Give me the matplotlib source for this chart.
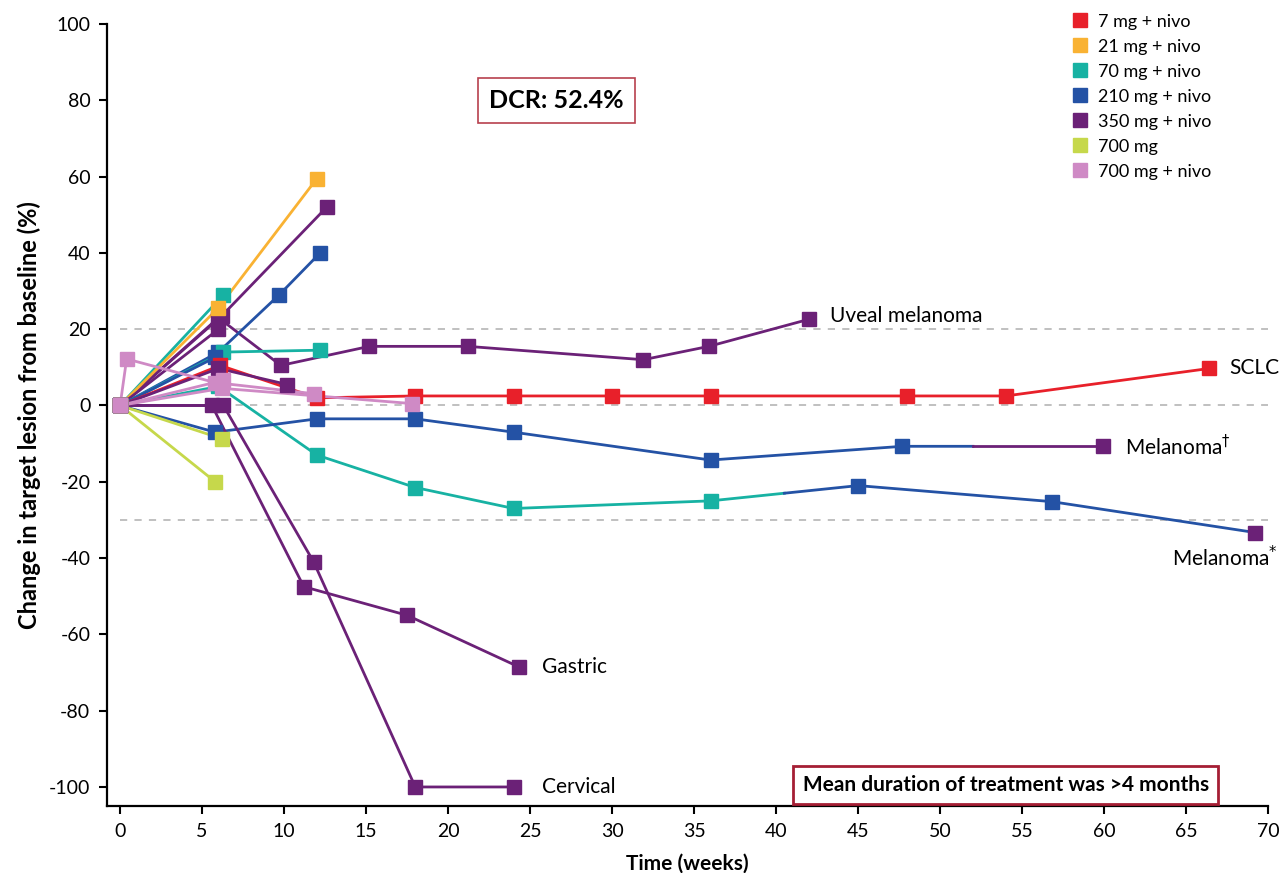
import numpy as np
import matplotlib.pyplot as plt
from matplotlib.lines import Line2D

plt.rcParams['font.family'] = ['Lato', 'DejaVu Sans']
plt.rcParams['axes.unicode_minus'] = False

# dose groups (legend order) and their colours
doses = ['7 mg + nivo', '21 mg + nivo', '70 mg + nivo', '210 mg + nivo',
         '350 mg + nivo', '700 mg', '700 mg + nivo']
dose_colors = ['#E8202A', '#F9B233', '#17B2A3', '#2452A5',
               '#6B2177', '#C6D84B', '#CF8AC5']
RED, YEL, TEAL, BLUE, PURP, LIME, PINK = range(7)

# patients: weeks, % change from baseline, dose at each visit
sclc_weeks = [0, 6.1, 12, 18, 24, 30, 36, 48, 54, 66.4]
sclc_change = [0, 10.5, 2, 2.5, 2.5, 2.5, 2.5, 2.5, 2.5, 9.7]
sclc_dose = [RED] * 10

yel_weeks = [0, 6, 12]
yel_change = [0, 25.6, 59.5]

teal_a_weeks = [0, 6.3]
teal_a_change = [0, 29]
teal_b_weeks = [0, 6.3, 12.2]
teal_b_change = [0, 14, 14.5]

mel_star_weeks = [0, 6, 12, 18, 24, 36, 45, 56.8, 69.2]
mel_star_change = [0, 5, -13, -21.5, -27, -25, -21, -25.2, -33.3]
mel_star_dose = [TEAL] * 6 + [BLUE, BLUE, PURP]
mel_star_line = [(0, TEAL), (40.5, BLUE)]

blue_a_weeks = [0, 6, 9.7, 12.2]
blue_a_change = [0, 14, 29, 40]
blue_c_weeks = [0, 5.8]
blue_c_change = [0, 12.6]

mel_dag_weeks = [0, 5.8, 12, 18, 24, 36, 47.7, 59.9]
mel_dag_change = [0, -7, -3.5, -3.5, -7, -14.3, -10.7, -10.7]
mel_dag_dose = [BLUE] * 7 + [PURP]
mel_dag_line = [(0, BLUE), (52, PURP)]

purp_a_weeks = [0, 6.2, 12.6]
purp_a_change = [0, 23.5, 52]
uveal_weeks = [0, 6, 9.8, 15.2, 21.2, 31.9, 35.9, 42]
uveal_change = [0, 23, 10.5, 15.5, 15.5, 12, 15.5, 22.6]
purp_d_weeks = [0, 6, 10.2]
purp_d_change = [0, 9.7, 5.5]
purp_e_weeks = [0, 6]
purp_e_change = [0, 20]
gastric_weeks = [0, 5.6, 11.2, 17.5, 24.3]
gastric_change = [0, 0, -47.5, -55, -68.5]
cervical_weeks = [0, 6.3, 11.8, 18, 24]
cervical_change = [0, 0, -41, -100, -100]

lime_a_weeks = [0, 6.2]
lime_a_change = [0, -8.7]
lime_b_weeks = [0, 5.8]
lime_b_change = [0, -20]

pink_a_weeks = [0, 0.4, 5.8, 11.8]
pink_a_change = [0, 12.2, 6, 3.1]
pink_b_weeks = [0, 6.3]
pink_b_change = [0, 6.6]
pink_c_weeks = [0, 6.2, 17.8]
pink_c_change = [0, 4.5, 0.5]

patients = [
    (purp_a_weeks, purp_a_change, PURP, None),
    (uveal_weeks, uveal_change, PURP, None),
    (teal_a_weeks, teal_a_change, TEAL, None),
    (yel_weeks, yel_change, YEL, None),
    (blue_a_weeks, blue_a_change, BLUE, None),
    (purp_e_weeks, purp_e_change, PURP, None),
    (teal_b_weeks, teal_b_change, TEAL, None),
    (blue_c_weeks, blue_c_change, BLUE, None),
    (sclc_weeks, sclc_change, sclc_dose, None),
    (purp_d_weeks, purp_d_change, PURP, None),
    (mel_star_weeks, mel_star_change, mel_star_dose, mel_star_line),
    (mel_dag_weeks, mel_dag_change, mel_dag_dose, mel_dag_line),
    (gastric_weeks, gastric_change, PURP, None),
    (cervical_weeks, cervical_change, PURP, None),
    (lime_a_weeks, lime_a_change, LIME, None),
    (lime_b_weeks, lime_b_change, LIME, None),
    (pink_b_weeks, pink_b_change, PINK, None),
    (pink_c_weeks, pink_c_change, PINK, None),
    (pink_a_weeks, pink_a_change, PINK, None),
]

labels = [('Uveal melanoma', 43.3, 23.4, 'left'),
          ('SCLC', 67.6, 9.7, 'left'),
          ('Melanoma$^{\u2020}$', 61.3, -10.7, 'left'),
          ('Melanoma$^{*}$', 70.6, -39.8, 'right'),
          ('Gastric', 25.7, -68.5, 'left'),
          ('Cervical', 25.7, -100, 'left')]

fig = plt.figure(figsize=(12.81, 8.73), dpi=100)
ax = fig.add_axes([0.0835, 0.0767, 0.9065, 0.8958])

for y in (20, 0, -30):
    ax.plot([0, 70], [y, y], ls=(0, (4, 4)), color='#BBBBBB', lw=1.3, zorder=1)

for weeks, change, dose, line in patients:
    weeks = np.asarray(weeks, float)
    change = np.asarray(change, float)
    if isinstance(dose, int):
        dose = [dose] * len(weeks)
    if line is None:
        line = [(weeks[0], dose[0])]
    starts = [s for s, _ in line] + [weeks[-1]]
    for (s, c), e in zip(line, starts[1:]):
        inside = (weeks > s) & (weeks < e)
        xs = np.concatenate([[s], weeks[inside], [e]])
        ys = np.interp(xs, weeks, change)
        ax.plot(xs, ys, color=dose_colors[c], lw=2, zorder=2)
    for x, y, d in zip(weeks, change, dose):
        ax.plot(x, y, marker='s', ms=10, color=dose_colors[d], ls='none', zorder=3)

for text, x, y, ha in labels:
    ax.text(x, y, text, ha=ha, va='center', fontsize=15)

ax.text(26.6, 80, 'DCR: 52.4%', ha='center', va='center', fontsize=18, fontweight='bold',
        bbox=dict(boxstyle='square,pad=0.45', fc='white', ec='#B8414E', lw=1.2))
ax.text(54, -99.5, 'Mean duration of treatment was >4 months', ha='center', va='center',
        fontsize=15, fontweight='bold',
        bbox=dict(boxstyle='square,pad=0.45', fc='white', ec='#A51E34', lw=2))

ax.set_xlim(-0.8, 70)
ax.set_ylim(-105, 100)
ax.set_xticks(np.arange(0, 71, 5))
ax.set_yticks(np.arange(-100, 101, 20))
for s in ('top', 'right'):
    ax.spines[s].set_visible(False)
for s in ('left', 'bottom'):
    ax.spines[s].set_linewidth(1.6)
ax.tick_params(length=6, width=1.5, labelsize=14, pad=6)
ax.set_xlabel('Time (weeks)', fontsize=15, fontweight='bold', labelpad=10)
ax.set_ylabel('Change in target lesion from baseline (%)', fontsize=17, fontweight='bold', labelpad=6)

handles = [Line2D([], [], marker='s', ls='none', color=c, ms=10) for c in dose_colors]
fig.legend(handles, doses, loc='upper left', bbox_to_anchor=(0.823, 1.003), frameon=False,
           fontsize=13, handletextpad=0.5, labelspacing=0.5, handlelength=1.0)

fig.savefig('out.png', dpi=100)
